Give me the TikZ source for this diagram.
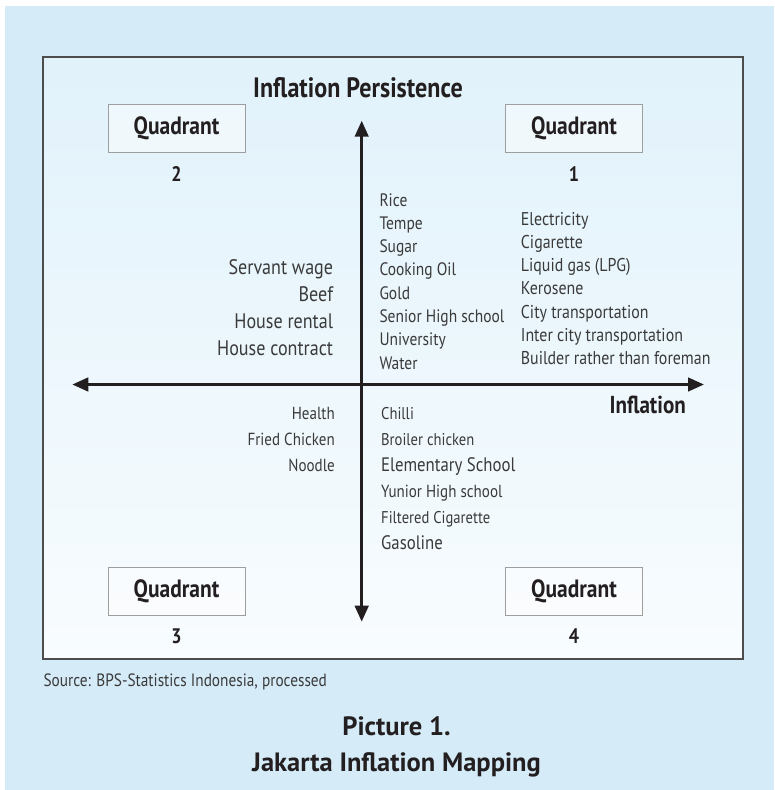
\documentclass[tikz,border=0pt]{standalone}
\usepackage{fontspec}
\setmainfont{PT Sans}[FakeStretch=0.86]
\newfontfamily\capfont{PT Sans}
\usetikzlibrary{positioning,arrows.meta}

\definecolor{outerblue}{HTML}{D5EBF8}
\definecolor{innertop}{HTML}{E1F2FB}
\definecolor{innerbot}{HTML}{F8FCFE}
\definecolor{framegray}{HTML}{4D4D4D}
\definecolor{boxgray}{HTML}{9E9E9E}
\definecolor{inkdark}{HTML}{231F20}
\definecolor{inklist}{HTML}{3A3A3A}

\begin{document}
\begin{tikzpicture}[x=1pt, y=-1pt,
    quadbox/.style={draw=boxgray, line width=0.9pt, fill=white, fill opacity=0.45, text opacity=1,
      minimum width=137pt, minimum height=48pt, inner sep=0pt, text=inkdark,
      font=\bfseries\fontsize{25}{28}\selectfont},
    quadnum/.style={inner sep=0pt, text=inkdark, font=\bfseries\fontsize{21}{25}\selectfont},
    axisline/.style={draw=inkdark, line width=3pt,
      {Triangle[length=16pt,width=13.5pt]}-{Triangle[length=16pt,width=13.5pt]}},
    itemlist/.style={inner sep=0pt, text=inklist},
    heading/.style={inner sep=0pt, text=inkdark, font=\bfseries\fontsize{#1}{#1}\selectfont}]

    \useasboundingbox (0,0) rectangle (774,790);
    % \draw[help lines] (0,0) grid[step=50] (774,790);

    \fill[outerblue] (5,6) rectangle (774,790);
    \draw[framegray, line width=1.7pt, top color=innertop, bottom color=innerbot] (42.7,57.3) rectangle (743,659);

    \node[heading=28, anchor=base] (persist) at (358,97) {Inflation Persistence};

    \node[quadbox] (qtwo) at (176.5,128) {Quadrant};
    \node[quadbox] (qone) at (574,128) {Quadrant};
    \node[quadbox] (qthree) at (176.5,591) {Quadrant};
    \node[quadbox] (qfour) at (574,591) {Quadrant};

    \node[quadnum, below=14pt of qtwo] (ntwo) {2};
    \node[quadnum, below=14pt of qone] (none) {1};
    \node[quadnum, below=13pt of qthree] (nthree) {3};
    \node[quadnum, below=13pt of qfour] (nfour) {4};

    \coordinate (ytop) at (361.7,120.7);
    \coordinate (ybot) at (361.7,621.7);
    \coordinate (xleft) at (72.3,384.5);
    \coordinate (xright) at (704,384.5);
    \draw[axisline] (xleft) -- (xright);
    \draw[axisline] (ybot) -- (ytop);

    \node[heading=24.5, anchor=base east] (infl) at (686,413) {Inflation};

    % base of a multi-line node = last line
    \node[itemlist, anchor=base west, align=left, font=\fontsize{18}{23.3}\selectfont] (listmid) at (379.3,369.1)
      {Rice\\Tempe\\Sugar\\Cooking Oil\\Gold\\Senior High school\\University\\Water};
    \node[itemlist, anchor=base west, align=left, font=\fontsize{18.5}{23.3}\selectfont] (listone) at (520.7,364.8)
      {Electricity\\Cigarette\\Liquid gas (LPG)\\Kerosene\\City transportation\\Inter city transportation\\Builder rather than foreman};
    \node[itemlist, anchor=base east, align=right, font=\fontsize{21}{27}\selectfont] (listtwo) at (333.3,355)
      {Servant wage\\Beef\\House rental\\House contract};
    \node[itemlist, anchor=base east, align=right, font=\fontsize{17.5}{26}\selectfont] (listthree) at (335,471)
      {Health\\Fried Chicken\\Noodle};
    \node[itemlist, anchor=base west, align=left, font=\fontsize{17}{26}\selectfont] (listfour) at (381,549)
      {Chilli\\Broiler chicken\\{\fontsize{19.5}{0}\selectfont Elementary School}\\{\fontsize{17.5}{0}\selectfont Yunior High school}\\Filtered Cigarette\\{\fontsize{19.5}{0}\selectfont Gasoline}};

    \node[itemlist, anchor=base west, font=\fontsize{17.8}{20}\selectfont] (source) at (43.3,686)
      {Source: BPS-Statistics Indonesia, processed};
    \node[inner sep=0pt, text=inkdark, anchor=base, align=center, font=\capfont\bfseries\fontsize{26.5}{36}\selectfont] (caption) at (396.5,771)
      {Picture 1.\\Jakarta Inflation Mapping};

\end{tikzpicture}
\end{document}
